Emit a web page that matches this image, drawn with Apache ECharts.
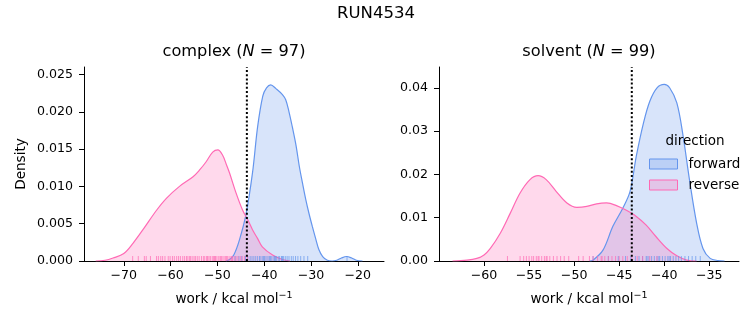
<!DOCTYPE html>
<html>
<head>
<meta charset="utf-8">
<script src="https://cdn.jsdelivr.net/npm/echarts@6/dist/echarts.min.js"></script>
<style>html,body{margin:0;padding:0;background:#fff;}#chart{width:753px;height:325px;}</style>
</head>
<body>
<div id="chart"></div>
<script>
// ---------- data ----------
const suptitle = 'RUN4534';
const panelNames = ['complex', 'solvent'];
const panelN = [97, 99];
const directions = ['forward', 'reverse'];
const xLabelMain = 'work / kcal mol';
const xLabelSup = '\u22121';
const yLabel = 'Density';
const legendTitle = 'direction';

// tick labels
const leftXTicks = [-70, -60, -50, -40, -30, -20];
const leftYTicks = [0, 0.005, 0.010, 0.015, 0.020, 0.025];
const rightXTicks = [-60, -55, -50, -45, -40, -35];
const rightYTicks = [0, 0.01, 0.02, 0.03, 0.04];

// axis ranges
const leftXRange = [-78.5, -14.4];
const leftYRange = [0, 0.026];
const rightXRange = [-65.0, -31.7];
const rightYRange = [0, 0.0448];

// dotted reference lines (x value)
const leftRefX = -43.7;
const rightRefX = -43.6;

// KDE curves [x, density]
const complexForward = [[-48.2,0],[-47.4,0.0002],[-46.5,0.0008],[-45.3,0.0028],[-43.9,0.0062],[-42.5,0.0118],[-41.4,0.018],[-40.3,0.0221],[-39.5,0.0232],[-38.6,0.0236],[-37.5,0.0231],[-36.1,0.0223],[-35.4,0.0216],[-34.7,0.0200],[-34.0,0.018],[-33.2,0.0155],[-32.5,0.0127],[-31.8,0.0104],[-31.1,0.0082],[-30.4,0.0063],[-29.7,0.0046],[-29.0,0.003],[-28.3,0.0015],[-27.5,0.0006],[-26.5,0.0001],[-25.5,0.0000],[-24.5,0.0001],[-23.5,0.0004],[-22.4,0.0006],[-21.3,0.0004],[-20.3,0.0001],[-19.0,0]];
const complexReverse = [[-76,0],[-74,0.0001],[-72.3,0.0004],[-70,0.001],[-68,0.0024],[-65.9,0.0042],[-63,0.0068],[-60.9,0.0084],[-58.1,0.0100],[-55.2,0.0113],[-53.8,0.0122],[-52.4,0.0133],[-51,0.0146],[-49.9,0.0149],[-48.9,0.0142],[-48,0.0128],[-47.4,0.0118],[-46,0.0091],[-44.6,0.0068],[-43.5,0.0055],[-42.5,0.0042],[-41.4,0.003],[-40.4,0.0019],[-38.2,0.0008],[-36.1,0.0002],[-34.5,0]];
const solventForward = [[-48.3,0],[-47.9,0.0002],[-46.8,0.0025],[-45.7,0.008],[-44.6,0.0122],[-43.8,0.0160],[-43.1,0.0242],[-42.3,0.0319],[-41.6,0.0369],[-40.8,0.0400],[-40.0,0.0408],[-39.4,0.0400],[-38.6,0.0365],[-37.9,0.0288],[-37.2,0.0188],[-36.4,0.0087],[-35.7,0.0029],[-34.9,0.0006],[-34.0,0.0001],[-33.3,0]];
const solventReverse = [[-63.5,0],[-61.9,0.0002],[-60.8,0.0006],[-60,0.0014],[-59.3,0.0029],[-58.2,0.0064],[-57.1,0.011],[-56,0.0157],[-54.9,0.0188],[-54,0.0197],[-53.1,0.0188],[-52,0.0161],[-50.8,0.0134],[-49.7,0.0124],[-48.6,0.0126],[-47.5,0.0132],[-46.4,0.0134],[-45.3,0.0128],[-44.2,0.0117],[-43.1,0.0103],[-42,0.0083],[-40.9,0.0056],[-39.7,0.0029],[-38.6,0.0012],[-37.5,0.0002],[-36.4,0]];

// rug samples (work values)
const complexForwardRug = [-46.2,-45.4,-44.8,-44.0,-43.5,-43.0,-42.6,-42.2,-41.8,-41.4,-41.0,-40.7,-40.3,-39.9,-39.6,-39.2,-38.9,-38.5,-38.1,-37.8,-37.4,-37.0,-36.7,-36.3,-35.9,-35.5,-35.1,-34.7,-34.2,-33.8,-33.3,-32.8,-32.2,-31.5,-30.7,-22.3,-40.1,-38.7,-37.6,-36.1];
const complexReverseRug = [-68.1,-66.9,-65.6,-65.2,-64.3,-63.0,-62.6,-62.1,-61.7,-61.2,-60.5,-60.1,-59.6,-59.2,-58.7,-58.3,-57.9,-57.0,-56.6,-56.3,-55.8,-55.4,-55.0,-54.7,-54.3,-53.9,-53.4,-53.0,-52.7,-52.3,-51.8,-51.5,-51.1,-50.8,-50.4,-50.1,-49.7,-49.4,-49.0,-48.6,-48.3,-47.9,-47.5,-47.1,-46.8,-46.4,-46.0,-45.6,-45.1,-44.7,-44.2,-43.6,-50.6,-52.1,-49.2,-48.0,-55.9,-57.4,-46.9];
const solventForwardRug = [-47.9,-46.2,-45.1,-44.3,-43.7,-43.2,-42.8,-42.4,-42.0,-41.7,-41.4,-41.1,-40.8,-40.5,-40.2,-39.9,-39.6,-39.3,-39.0,-38.7,-38.4,-38.1,-37.7,-37.3,-36.9,-36.5,-36.0,-40.6,-41.9,-39.45];
const solventReverseRug = [-57.4,-56.0,-55.6,-55.3,-55.0,-54.7,-54.5,-54.2,-53.9,-53.6,-53.3,-53.0,-52.7,-52.3,-51.9,-51.5,-51.1,-50.6,-49.5,-49.0,-48.3,-47.9,-47.4,-47.0,-46.6,-46.2,-45.8,-45.4,-45.0,-44.6,-44.1,-43.6,-43.0,-42.4,-41.6,-40.8,-54.0,-53.1,-46.9];

// ---------- styling ----------
const FONT = 'DejaVu Sans';
const BLUE = '#6495ED';
const PINK = '#FF69B4';
const BLUE_FILL = 'rgba(100,149,237,0.25)';
const PINK_FILL = 'rgba(255,105,180,0.25)';
const TICK_FS = 12.6;
const LABEL_FS = 13.6;
const TITLE_FS = 16.2;

const chart = echarts.init(document.getElementById('chart'), null, {renderer: 'canvas'});

function fmtNum(v, dec) {
  const s = Math.abs(v).toFixed(dec);
  return (v < 0 ? '\u2212' : '') + s;
}

function xAxis(gridIndex, range, ticks) {
  return {
    type: 'value', gridIndex, min: range[0], max: range[1],
    name: xLabelMain + '{sup|' + xLabelSup + '}', nameLocation: 'middle', nameGap: 30,
    nameTextStyle: {fontFamily: FONT, fontSize: LABEL_FS, color: '#000',
      rich: {sup: {fontFamily: FONT, fontSize: 9.5, color: '#000', padding: [0, 0, 7, 0]}}},
    axisLine: {show: true, onZero: false, lineStyle: {color: '#000', width: 1}},
    axisTick: {show: true, length: 5, lineStyle: {color: '#000', width: 1}, customValues: ticks},
    axisLabel: {fontFamily: FONT, fontSize: TICK_FS, color: '#000', margin: 8, customValues: ticks,
      formatter: v => fmtNum(v, 0)},
    splitLine: {show: false}
  };
}
function yAxis(gridIndex, range, ticks, dec, withName) {
  return {
    type: 'value', gridIndex, min: range[0], max: range[1],
    name: withName ? yLabel : '', nameLocation: 'middle', nameGap: 56, nameRotate: 90,
    nameTextStyle: {fontFamily: FONT, fontSize: LABEL_FS, color: '#000'},
    axisLine: {show: true, lineStyle: {color: '#000', width: 1}},
    axisTick: {show: true, length: 5, lineStyle: {color: '#000', width: 1}, customValues: ticks},
    axisLabel: {fontFamily: FONT, fontSize: TICK_FS, color: '#000', margin: 11, customValues: ticks,
      formatter: v => v.toFixed(dec)},
    splitLine: {show: false}
  };
}

function kde(name, idx, data, color, fill) {
  return {
    name, type: 'line', xAxisIndex: idx, yAxisIndex: idx, data,
    smooth: 0.35, showSymbol: false, symbol: 'none',
    lineStyle: {color, width: 1.2},
    itemStyle: {color},
    areaStyle: {color: fill, opacity: 1, origin: 'start'},
    z: 2, silent: true
  };
}
function rug(name, idx, values, color) {
  return {
    name, type: 'custom', xAxisIndex: idx, yAxisIndex: idx,
    data: values.map(v => [v, 0]),
    renderItem: (params, api) => {
      const p = api.coord([api.value(0), 0]);
      return {type: 'line', shape: {x1: p[0], y1: p[1], x2: p[0], y2: p[1] - 5},
        style: {stroke: color, lineWidth: 1, opacity: 0.7}};
    },
    z: 3, silent: true
  };
}
function refLine(idx, x, yr) {
  return {
    name: 'ref' + idx, type: 'line', xAxisIndex: idx, yAxisIndex: idx,
    data: [[x, yr[0]], [x, yr[1]]], showSymbol: false, symbol: 'none',
    lineStyle: {color: '#000', width: 2, type: [2, 2.2]}, z: 5, silent: true
  };
}

const titleStyle = {fontFamily: FONT, fontSize: TITLE_FS, fontWeight: 'normal', color: '#000',
  rich: {it: {fontFamily: FONT, fontSize: TITLE_FS, fontStyle: 'italic', color: '#000'}}};

const option = {
  animation: false,
  backgroundColor: '#fff',
  title: [
    {text: suptitle, left: 376, top: 5, padding: 0, textAlign: 'center',
      textStyle: Object.assign({}, titleStyle, {fontSize: 16.5})},
    {text: panelNames[0] + ' ({it|N} = ' + panelN[0] + ')', left: 234, top: 44, padding: 0,
      textAlign: 'center', textStyle: titleStyle},
    {text: panelNames[1] + ' ({it|N} = ' + panelN[1] + ')', left: 589, top: 44, padding: 0,
      textAlign: 'center', textStyle: titleStyle},
    {text: legendTitle, left: 695, top: 134, padding: 0, textAlign: 'center',
      textStyle: {fontFamily: FONT, fontSize: 13.5, fontWeight: 'normal', color: '#000'}}
  ],
  legend: {
    orient: 'vertical', left: 649, top: 157, padding: 0, itemWidth: 28, itemHeight: 10, itemGap: 7,
    textStyle: {fontFamily: FONT, fontSize: 13.5, color: '#000', padding: [0, 0, 0, 6]},
    data: [
      {name: directions[0], icon: 'rect', itemStyle: {color: BLUE_FILL, borderColor: BLUE, borderWidth: 1}},
      {name: directions[1], icon: 'rect', itemStyle: {color: PINK_FILL, borderColor: PINK, borderWidth: 1}}
    ],
    selectedMode: false
  },
  grid: [
    {left: 84, top: 67, width: 300, height: 194},
    {left: 439, top: 67, width: 300, height: 194}
  ],
  xAxis: [xAxis(0, leftXRange, leftXTicks), xAxis(1, rightXRange, rightXTicks)],
  yAxis: [yAxis(0, leftYRange, leftYTicks, 3, true), yAxis(1, rightYRange, rightYTicks, 2, false)],
  series: [
    kde(directions[0], 0, complexForward, BLUE, BLUE_FILL),
    kde(directions[1], 0, complexReverse, PINK, PINK_FILL),
    kde(directions[0], 1, solventForward, BLUE, BLUE_FILL),
    kde(directions[1], 1, solventReverse, PINK, PINK_FILL),
    rug('rugF0', 0, complexForwardRug, BLUE),
    rug('rugR0', 0, complexReverseRug, PINK),
    rug('rugF1', 1, solventForwardRug, BLUE),
    rug('rugR1', 1, solventReverseRug, PINK),
    refLine(0, leftRefX, leftYRange),
    refLine(1, rightRefX, rightYRange)
  ]
};
chart.setOption(option);
</script>
</body>
</html>
